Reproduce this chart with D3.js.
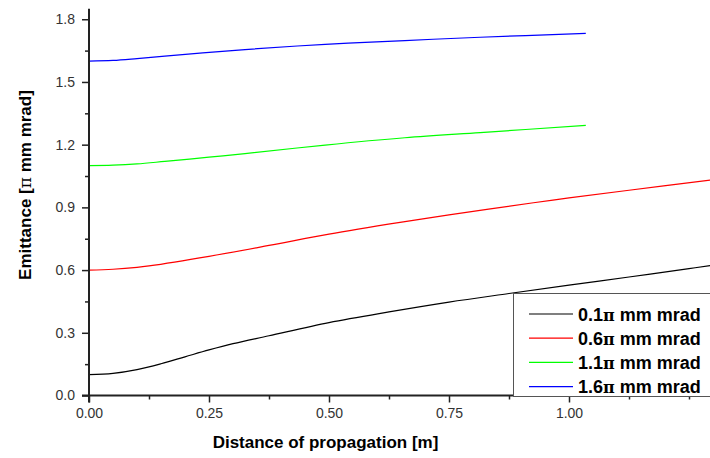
<!DOCTYPE html>
<html>
<head>
<meta charset="utf-8">
<script src="https://cdn.jsdelivr.net/npm/d3@7"></script>
<style>
  html, body { margin: 0; padding: 0; background: #fff; }
  svg { display: block; }
</style>
</head>
<body>
<svg id="chart" width="710" height="458"></svg>
<script>
// ---- data ----
const seriesNames = ["0.1", "0.6", "1.1", "1.6"];
const seriesColors = ["#000000", "#ff0000", "#00ff00", "#0000ff"];

const xBlack = [0, 0.05, 0.10, 0.15, 0.20, 0.25, 0.30, 0.375, 0.50, 0.625, 0.75, 0.875, 1.00, 1.125, 1.25, 1.294];
const yBlack = [0.100, 0.106, 0.124, 0.152, 0.185, 0.218, 0.248, 0.286, 0.349, 0.400, 0.447, 0.488, 0.528, 0.567, 0.607, 0.621];

const xRed = [0, 0.05, 0.10, 0.125, 0.25, 0.375, 0.50, 0.648, 0.75, 0.926, 1.00, 1.125, 1.294];
const yRed = [0.600, 0.604, 0.613, 0.620, 0.666, 0.718, 0.772, 0.828, 0.864, 0.922, 0.945, 0.982, 1.030];

const xGreen = [0, 0.05, 0.10, 0.158, 0.25, 0.325, 0.492, 0.658, 0.815, 1.035];
const yGreen = [1.100, 1.102, 1.108, 1.120, 1.140, 1.157, 1.198, 1.233, 1.258, 1.292];

const xBlue = [0, 0.05, 0.10, 0.158, 0.231, 0.325, 0.492, 0.658, 0.815, 1.035];
const yBlue = [1.600, 1.603, 1.612, 1.624, 1.638, 1.655, 1.680, 1.698, 1.714, 1.732];

const xTicks = [0, 0.25, 0.5, 0.75, 1.0];
const xMinor = [0.125, 0.375, 0.625, 0.875, 1.125, 1.25];
const yTicks = [0, 0.3, 0.6, 0.9, 1.2, 1.5, 1.8];
const yMinor = [0.15, 0.45, 0.75, 1.05, 1.35, 1.65];

const xTitle = "Distance of propagation [m]";

// ---- layout ----
const svg = d3.select("#chart");
const x = d3.scaleLinear().domain([0, 1.3]).range([89, 713]);
const y = d3.scaleLinear().domain([0, 1.85]).range([395.5, 8.8]);

const series = [
  { xs: xBlack, ys: yBlack },
  { xs: xRed, ys: yRed },
  { xs: xGreen, ys: yGreen },
  { xs: xBlue, ys: yBlue }
];

const line = d3.line()
  .x(d => x(d[0]))
  .y(d => y(d[1]))
  .curve(d3.curveCatmullRom.alpha(0.5));

series.forEach((s, i) => {
  svg.append("path")
    .datum(s.xs.map((v, k) => [v, s.ys[k]]))
    .attr("fill", "none")
    .attr("stroke", seriesColors[i])
    .attr("stroke-width", 1.2)
    .attr("d", line);
});

// ---- axes ----
const axisColor = "#222";
const fontFam = "Arial, 'Liberation Sans', Helvetica, sans-serif";

// x axis
const gx = svg.append("g").attr("transform", `translate(0,${y(0)})`);
gx.call(d3.axisBottom(x).tickValues(xMinor).tickSize(4).tickFormat(""));
gx.append("g").call(d3.axisBottom(x).tickValues(xTicks).tickSize(7).tickPadding(6).tickFormat(d3.format(".2f")));
gx.selectAll(".domain").remove();
gx.selectAll("line").attr("stroke", axisColor).attr("stroke-width", 1.5);
gx.selectAll("text").attr("fill", "#333").style("font-family", fontFam).style("font-size", "14px");
gx.append("line").attr("x1", x(0) - 7).attr("x2", 710).attr("y1", 0).attr("y2", 0)
  .attr("stroke", axisColor).attr("stroke-width", 2);

// y axis
const gy = svg.append("g").attr("transform", `translate(${x(0)},0)`);
gy.call(d3.axisLeft(y).tickValues(yMinor).tickSize(4).tickFormat(""));
gy.append("g").call(d3.axisLeft(y).tickValues(yTicks).tickSize(7).tickPadding(7).tickFormat(d3.format(".1f")));
gy.selectAll(".domain").remove();
gy.selectAll("line").attr("stroke", axisColor).attr("stroke-width", 1.5);
gy.selectAll("text").attr("fill", "#333").style("font-family", fontFam).style("font-size", "14px");
gy.append("line").attr("x1", 0).attr("x2", 0).attr("y1", y(0) + 7).attr("y2", y(1.85))
  .attr("stroke", axisColor).attr("stroke-width", 2);

// axis titles
svg.append("text")
  .attr("x", 325.5).attr("y", 448)
  .attr("text-anchor", "middle")
  .style("font-family", fontFam).style("font-size", "17px").style("font-weight", "bold")
  .text(xTitle);

const yt = svg.append("text")
  .attr("transform", "translate(31,185) rotate(-90)")
  .attr("text-anchor", "middle")
  .style("font-family", fontFam).style("font-size", "17px").style("font-weight", "bold");
yt.append("tspan").text("Emittance [");
yt.append("tspan").style("font-family", "'DejaVu Serif', serif").style("font-weight", "normal").text("π");
yt.append("tspan").text(" mm mrad]");

// ---- legend ----
const lg = svg.append("g");
lg.append("rect")
  .attr("x", 513.5).attr("y", 293.5).attr("width", 210).attr("height", 103)
  .attr("fill", "#fff").attr("stroke", "#555").attr("stroke-width", 1);

seriesNames.forEach((name, i) => {
  const cy = 314 + i * 24.2;
  lg.append("line")
    .attr("x1", 529).attr("x2", 573).attr("y1", cy).attr("y2", cy)
    .attr("stroke", seriesColors[i]).attr("stroke-width", 1.2);
  const t = lg.append("text")
    .attr("x", 578).attr("y", cy + 6.5)
    .style("font-family", fontFam).style("font-size", "18px").style("font-weight", "bold");
  t.append("tspan").text(name);
  t.append("tspan").style("font-family", "'DejaVu Serif', serif").style("font-size", "16px").text("π");
  t.append("tspan").text(" mm mrad");
});
</script>
</body>
</html>
